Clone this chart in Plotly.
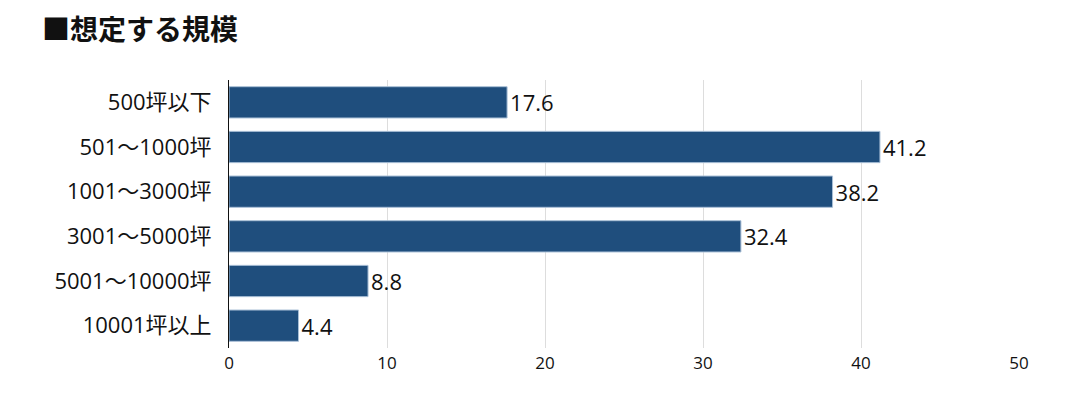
import plotly.graph_objects as go

categories = ["500坪以下", "501～1000坪", "1001～3000坪", "3001～5000坪", "5001～10000坪", "10001坪以上"]
values = [17.6, 41.2, 38.2, 32.4, 8.8, 4.4]
x_ticks = [0, 10, 20, 30, 40, 50]

font = "Open Sans, Noto Sans CJK JP"
fig = go.Figure(go.Bar(
    x=values, y=categories, orientation="h",
    marker=dict(color="#1f4e7d", line=dict(color="#a9bfd6", width=1)),
    text=[f"{v:.1f}" for v in values], textposition="outside",
    textfont=dict(size=22, color="#111", family=font),
    cliponaxis=False,
))
# page has an 8px body margin; figure sized so it ends at the window edge
fig.update_layout(
    width=1059, height=386,
    margin=dict(l=221, r=48, t=72, b=46, autoexpand=False),
    plot_bgcolor="white", paper_bgcolor="white",
    bargap=0.3, showlegend=False,
    font=dict(family=font),
    title=dict(text="<b>■想定する規模</b>", x=34/1059, xanchor="left", y=1-22/386, yanchor="middle",
               font=dict(size=28, color="#111", family="Noto Sans CJK JP")),
)
fig.update_xaxes(range=[0, 50], tickvals=x_ticks, showgrid=True, gridcolor="#dddddd", gridwidth=1,
                 zeroline=False, tickfont=dict(size=17, color="#111"), ticks="", showline=False,
                 ticklabelstandoff=3, automargin=False)
fig.update_yaxes(autorange="reversed", tickfont=dict(size=22, color="#111"), ticks="", ticklabelstandoff=12,
                 showline=True, linecolor="#111", linewidth=1, automargin=False)
fig.write_html("out.html")
